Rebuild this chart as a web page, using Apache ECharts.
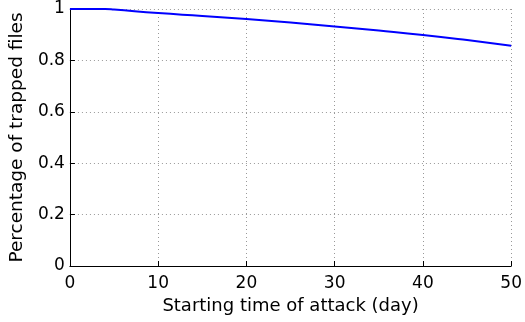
<!DOCTYPE html>
<html>
<head>
<meta charset="utf-8">
<script src="https://cdn.jsdelivr.net/npm/echarts@6/dist/echarts.min.js"></script>
<style>
  html, body { margin: 0; padding: 0; background: #fff; }
  #chart { width: 525px; height: 322px; }
</style>
</head>
<body>
<div id="chart"></div>
<script>
    // starting day of the attack
    var days = [0, 2, 4, 5, 10, 15, 20, 25, 30, 35, 40, 45, 50];
    // share of files trapped
    var trapped = [1, 1, 1, 0.998, 0.984, 0.973, 0.961, 0.947, 0.932, 0.916, 0.899, 0.879, 0.857];

    var xTicks = [0, 10, 20, 30, 40, 50];
    var yTicks = [0, 0.2, 0.4, 0.6, 0.8, 1];

    var font = 'DejaVu Sans';

    var points = days.map(function (d, i) { return [d, trapped[i]]; });

    var chart = echarts.init(document.getElementById('chart'), null, { renderer: 'canvas' });

    chart.setOption({
        animation: false,
        backgroundColor: '#ffffff',
        grid: {
            left: 69,
            right: 12,
            top: 9,
            bottom: 56
        },
        xAxis: {
            type: 'value',
            min: xTicks[0],
            max: xTicks[xTicks.length - 1],
            interval: 10,
            name: 'Starting time of attack (day)',
            nameLocation: 'middle',
            nameGap: 24,
            nameTextStyle: { fontFamily: font, fontSize: 18, color: '#000' },
            axisLine: { show: true, lineStyle: { color: '#000', width: 1 } },
            axisTick: { show: true, inside: true, length: 5, lineStyle: { color: '#000' } },
            axisLabel: { fontFamily: font, fontSize: 17, color: '#000', margin: 9 },
            splitLine: { show: true, lineStyle: { color: '#999', type: [1, 3], width: 1 } }
        },
        yAxis: {
            type: 'value',
            min: yTicks[0],
            max: yTicks[yTicks.length - 1],
            interval: 0.2,
            name: 'Percentage of trapped files',
            nameLocation: 'middle',
            nameGap: 34,
            nameTextStyle: { fontFamily: font, fontSize: 18.5, color: '#000' },
            axisLine: { show: true, lineStyle: { color: '#000', width: 1 } },
            axisTick: { show: true, inside: true, length: 5, lineStyle: { color: '#000' } },
            axisLabel: {
                fontFamily: font, fontSize: 17, color: '#000', margin: 5,
                padding: [4, 0, 0, 0],
                formatter: function (v) { return String(Math.round(v * 10) / 10); }
            },
            splitLine: { show: true, lineStyle: { color: '#999', type: [1, 3], width: 1 } }
        },
        series: [{
            type: 'line',
            data: points,
            smooth: true,
            showSymbol: false,
            lineStyle: { color: '#0000ff', width: 2 },
            itemStyle: { color: '#0000ff' }
        }]
    });
</script>
</body>
</html>
